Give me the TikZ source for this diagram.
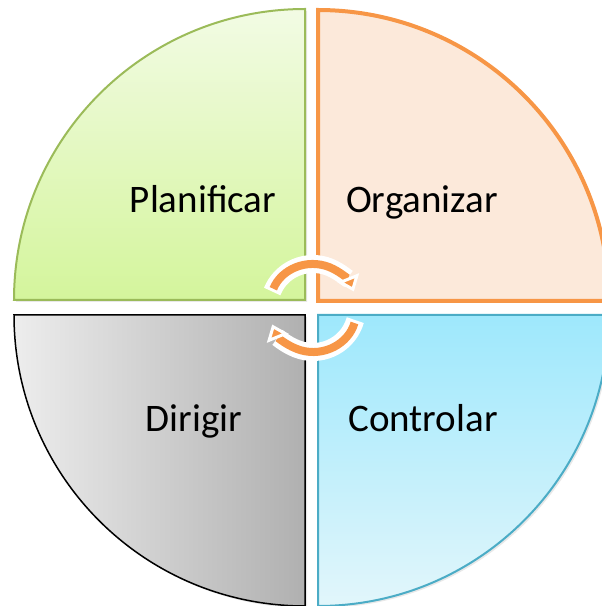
\documentclass[tikz,border=0pt]{standalone}
\usepackage{fontspec}
\setmainfont{Carlito}
\usetikzlibrary{arrows.meta,shadows}
\definecolor{tlborder}{HTML}{9BBB59}
\definecolor{tltop}{HTML}{F2FBE4}
\definecolor{tlbot}{HTML}{D4F59C}
\definecolor{trfill}{HTML}{FCE9DA}
\definecolor{orng}{HTML}{F79646}
\definecolor{blleft}{HTML}{EDEDED}
\definecolor{blright}{HTML}{B0B0B0}
\definecolor{brtop}{HTML}{9EE8FC}
\definecolor{brbot}{HTML}{E2F6FB}
\definecolor{brborder}{HTML}{4BACC6}
\tikzset{
  quarter/.style={drop shadow={opacity=0.18,shadow xshift=2pt,shadow yshift=-2pt}},
  lbl/.style={anchor=base,inner sep=0pt,font=\fontsize{39}{47}\selectfont},
  whiteback/.style={draw=white,line width=18pt},
  orangearc/.style={draw=orng,line width=8pt,-{Triangle[length=15pt,width=23pt,fill=orng,color=white,line width=3pt]}}
}
\begin{document}
\begin{tikzpicture}[x=1pt,y=1pt]
\useasboundingbox (0,0) rectangle (602,606);
\begin{scope}
\clip (0,0) rectangle (602,606);
% top-left
\path[quarter,top color=tltop,bottom color=tlbot,draw=tlborder,line width=2pt]
  (305,306) -- ++(-291,0) arc[start angle=180,end angle=90,radius=291] -- cycle;
% top-right
\path[quarter,fill=trfill,draw=orng,line width=4pt]
  (318,305) -- ++(0,291) arc[start angle=90,end angle=0,radius=291] -- cycle;
% bottom-left
\path[quarter,left color=blleft,right color=blright,draw=black,line width=1.5pt]
  (305,291) -- ++(-291,0) arc[start angle=180,end angle=270,radius=291] -- cycle;
% bottom-right
\path[quarter,top color=brtop,bottom color=brbot,draw=brborder,line width=2pt]
  (318,291) -- ++(291,0) arc[start angle=0,end angle=-90,radius=291] -- cycle;
\end{scope}
\node[lbl] (plan) at (203,393) {Planificar};
\node[lbl] (org) at (422,393) {Organizar};
\node[lbl] (dir) at (194,174) {Dirigir};
\node[lbl] (con) at (423,174) {Controlar};
% cycle arrows
\coordinate (cc) at (313,298);
\draw[whiteback,shorten >=14pt] ([shift={(158:44)}]cc) arc[start angle=158,end angle=22,radius=44];
\draw[orangearc,shorten <=3pt] ([shift={(158:44)}]cc) arc[start angle=158,end angle=22,radius=44];
\draw[whiteback,shorten >=14pt] ([shift={(-16:44)}]cc) arc[start angle=-16,end angle=-158,radius=44];
\draw[orangearc,shorten <=3pt] ([shift={(-16:44)}]cc) arc[start angle=-16,end angle=-158,radius=44];
\end{tikzpicture}
\end{document}
